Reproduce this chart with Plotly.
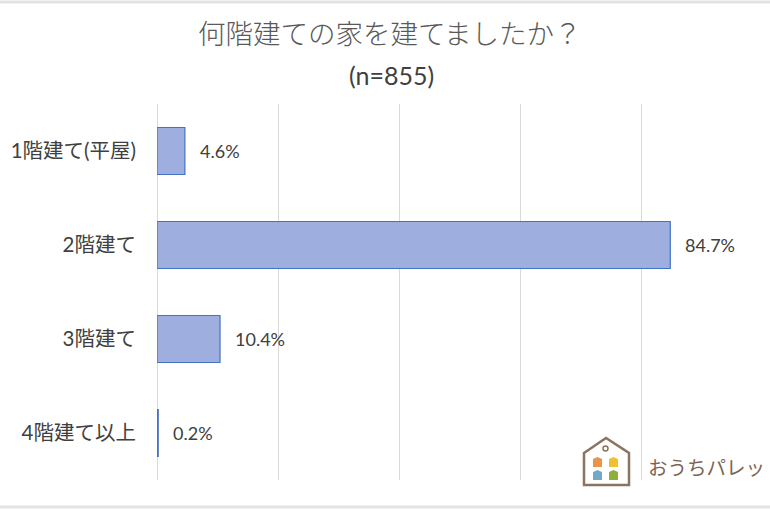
import plotly.graph_objects as go

categories = ["1階建て(平屋)", "2階建て", "3階建て", "4階建て以上"]
values = [4.6, 84.7, 10.4, 0.2]
value_labels = ["4.6%", "84.7%", "10.4%", "0.2%"]
title_text = "何階建ての家を建てましたか？"
subtitle_text = "(n=855)"
logo_text = "おうちパレッ"

W, H = 770, 510
L, R, T, B = 157, 7, 104, 30
PW, PH = W - L - R, H - T - B


def px(x):
    return (x - L) / PW


def py(y):
    return (H - B - y) / PH


FONT = "Lato, 'Noto Sans CJK JP', sans-serif"
JFONT = "'Noto Sans CJK JP', sans-serif"

fig = go.Figure()
fig.add_trace(go.Bar(
    y=categories,
    x=values,
    orientation="h",
    width=0.5,
    marker=dict(color="#9daedf", line=dict(color="#4472c4", width=1.2)),
    hoverinfo="skip",
))

annotations = []
for c, v, t in zip(categories, values, value_labels):
    annotations.append(dict(
        x=v, y=c, xref="x", yref="y", text=t, showarrow=False,
        xanchor="left", yanchor="middle", xshift=13,
        font=dict(size=18, color="#404040", family=FONT),
    ))

annotations += [
    dict(x=px(390), y=py(32), xref="paper", yref="paper", text=title_text,
         showarrow=False, xanchor="center", yanchor="middle",
         font=dict(size=27.5, color="#595959", family=JFONT, weight=300)),
    dict(x=px(391), y=py(75), xref="paper", yref="paper", text=subtitle_text,
         showarrow=False, xanchor="center", yanchor="middle",
         font=dict(size=25, color="#404040", family=FONT)),
    dict(x=px(646), y=py(466), xref="paper", yref="paper", text=logo_text,
         showarrow=False, xanchor="left", yanchor="middle",
         font=dict(size=19.5, color="#7b6554", family=JFONT)),
]


def path(points, close=True):
    s = "M " + " L ".join(f"{px(a):.5f},{py(b):.5f}" for a, b in points)
    return s + (" Z" if close else "")


shapes = [
    dict(type="line", xref="paper", yref="paper", x0=px(0), x1=px(W), y0=py(2), y1=py(2),
         line=dict(color="#e3e3e3", width=3)),
    dict(type="line", xref="paper", yref="paper", x0=px(0), x1=px(W), y0=py(507), y1=py(507),
         line=dict(color="#e3e3e3", width=3)),
    dict(type="path", xref="paper", yref="paper",
         path=path([(584, 453), (606, 438), (629, 453), (629, 485), (584, 485)]),
         line=dict(color="#8c735f", width=2.5), fillcolor="rgba(0,0,0,0)"),
    dict(type="circle", xref="paper", yref="paper",
         x0=px(603), x1=px(608), y0=py(451), y1=py(446),
         line=dict(color="#8c735f", width=1.5)),
]
squares = [
    (593, 457, "#e8944a"), (609, 457, "#f0c030"),
    (593, 470, "#72a9c9"), (609, 470, "#8fae3c"),
]
for x0, y0, col in squares:
    shapes.append(dict(
        type="path", xref="paper", yref="paper",
        path=path([(x0, y0 + 2), (x0 + 4.5, y0), (x0 + 9, y0 + 2), (x0 + 9, y0 + 10), (x0, y0 + 10)]),
        line=dict(width=0), fillcolor=col,
    ))

fig.update_layout(
    width=W, height=H,
    margin=dict(l=L, r=R, t=T, b=B, pad=0),
    paper_bgcolor="white", plot_bgcolor="white",
    showlegend=False,
    bargap=0.5,
    font=dict(family=FONT, size=16, color="#404040"),
    xaxis=dict(range=[0, 100], dtick=20, showgrid=True, gridcolor="#d9d9d9", gridwidth=1,
               showticklabels=False, zeroline=True, zerolinecolor="#d9d9d9", zerolinewidth=1,
               showline=False, ticks="", fixedrange=True),
    yaxis=dict(categoryorder="array", categoryarray=categories[::-1], autorange=False,
               range=[-0.5, 3.5], showgrid=False, showline=False, zeroline=False, ticks="",
               ticklabelstandoff=20,
               tickfont=dict(size=20.5, color="#404040", family=FONT), fixedrange=True),
    annotations=annotations,
    shapes=shapes,
)

fig.write_html("out.html", config=dict(displayModeBar=False),
               post_script="document.body.style.margin='0';document.body.style.overflow='hidden';")
